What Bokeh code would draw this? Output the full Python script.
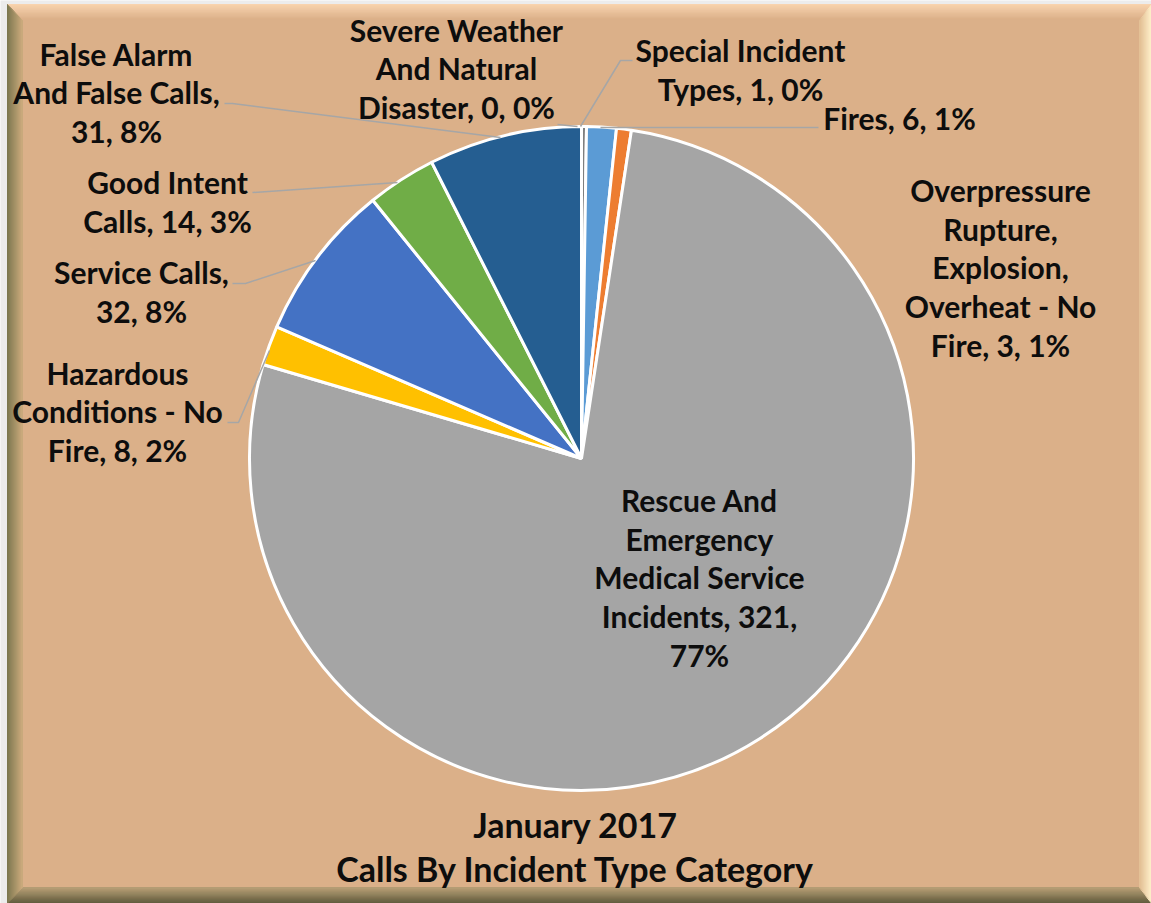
import numpy as np
import pandas as pd
from bokeh.plotting import figure
from bokeh.models import Range1d, ColumnDataSource
from bokeh.core.properties import value
from bokeh.embed import file_html
from bokeh.resources import INLINE

# ---------------- data ----------------
categories = [
    "Special Incident Types",
    "Fires",
    "Overpressure Rupture, Explosion, Overheat - No Fire",
    "Rescue And Emergency Medical Service Incidents",
    "Hazardous Conditions - No Fire",
    "Service Calls",
    "Good Intent Calls",
    "False Alarm And False Calls",
    "Severe Weather And Natural Disaster",
]
counts = [1, 6, 3, 321, 8, 32, 14, 31, 0]
colors = ["#7F7F7F", "#5B9BD5", "#ED7D31", "#A5A5A5", "#FFC000",
          "#4472C4", "#70AD47", "#255E91", "#9E480E"]
# wrapped label text ({n} = count, {p} = percent)
label_templates = [
    "Special Incident\nTypes, {n}, {p}%",
    "Fires, {n}, {p}%",
    "Overpressure\nRupture,\nExplosion,\nOverheat - No\nFire, {n}, {p}%",
    "Rescue And\nEmergency\nMedical Service\nIncidents, {n},\n{p}%",
    "Hazardous\nConditions - No\nFire, {n}, {p}%",
    "Service Calls,\n{n}, {p}%",
    "Good Intent\nCalls, {n}, {p}%",
    "False Alarm\nAnd False Calls,\n{n}, {p}%",
    "Severe Weather\nAnd Natural\nDisaster, {n}, {p}%",
]
title_lines = ["January 2017", "Calls By Incident Type Category"]

# ---------------- layout (pixel coords of reference) ----------------
CX, CY, R = 581, 458, 332
label_pos = [(740, 69), (899, 117), (1000, 267), (699, 577), (117, 411),
             (141, 291), (167, 201), (116, 92), (456, 68)]
leaders = [
    [(632, 60), (620, 60), (580, 126)],
    [(818, 127), (600, 127)],
    None,
    None,
    [(227, 422), (238, 422), (269, 350)],
    [(232, 283), (245, 283), (315, 260)],
    [(252, 192), (397, 182)],
    [(224, 103), (232, 103), (500, 137)],
    [(557, 124), (577, 126)],
]

def X(x):
    return x - CX

def Y(y):
    return CY - y

# ---------------- computations ----------------
df = pd.DataFrame({"cat": categories, "n": counts, "color": colors})
total = df["n"].sum()
raw = df["n"] / total * 100
pct = np.floor(raw).astype(int)
rem = raw - pct
short = 100 - pct.sum()
for idx in rem.sort_values(ascending=False).index[:short]:
    pct[idx] += 1
df["p"] = pct
frac_end = df["n"].cumsum() / total
frac_start = frac_end - df["n"] / total
# clockwise from 12 o'clock -> standard angles
df["start"] = np.pi / 2 - 2 * np.pi * frac_end
df["end"] = np.pi / 2 - 2 * np.pi * frac_start
df["label"] = [t.format(n=n, p=p) for t, n, p in zip(label_templates, df["n"], df["p"])]

W, H = 1151, 903
p = figure(width=W, height=H, x_range=Range1d(X(0), X(W)),
           y_range=Range1d(Y(H), Y(0)), min_border=0,
           toolbar_location=None, output_backend="svg")
p.axis.visible = False
p.grid.visible = False
p.outline_line_color = None
BG = "#DBB089"
p.background_fill_color = "#ECECEC"
p.border_fill_color = "#ECECEC"

# ---------------- bevel frame ----------------
def lerp(c1, c2, t):
    a = [int(c1[i:i + 2], 16) for i in (1, 3, 5)]
    b = [int(c2[i:i + 2], 16) for i in (1, 3, 5)]
    return "#%02x%02x%02x" % tuple(int(round(a[k] + (b[k] - a[k]) * t)) for k in range(3))

L, T, Rr, B = 7, 4, 1151, 903
bl, bt, br, bb = 15, 16, 12, 16
p.quad(left=X(L), right=X(Rr), top=Y(T), bottom=Y(B), fill_color=BG, line_color=None)
sides = {
    "top": ("#F8D3AE", BG),
    "left": ("#7C7750", "#C9A97C"),
    "right": ("#FFF2CC", "#E4C197"),
    "bottom": ("#5E5A3C", "#B49C74"),
}
n = 14
xs, ys, cs = [], [], []
for i in range(n):
    f1, f2 = i / n, (i + 1) / n
    o = (L + bl * f1, T + bt * f1, Rr - br * f1, B - bb * f1)
    q = (L + bl * f2, T + bt * f2, Rr - br * f2, B - bb * f2)
    t = i / (n - 1)
    polys = {
        "top": [(o[0], o[1]), (o[2], o[1]), (q[2], q[1]), (q[0], q[1])],
        "bottom": [(o[0], o[3]), (o[2], o[3]), (q[2], q[3]), (q[0], q[3])],
        "left": [(o[0], o[1]), (q[0], q[1]), (q[0], q[3]), (o[0], o[3])],
        "right": [(o[2], o[1]), (q[2], q[1]), (q[2], q[3]), (o[2], o[3])],
    }
    for s, poly in polys.items():
        xs.append([X(a) for a, b in poly])
        ys.append([Y(b) for a, b in poly])
        cs.append(lerp(sides[s][0], sides[s][1], t))
p.patches(xs, ys, fill_color=cs, line_color=cs, line_width=1)

# ---------------- pie ----------------
src = ColumnDataSource(df.loc[df["n"] > 0, ["start", "end", "color"]])
p.wedge(x=0, y=0, radius=R, start_angle="start", end_angle="end",
        fill_color="color", line_color="white", line_width=3, source=src)

# ---------------- leader lines ----------------
lx, ly = [], []
for ld in leaders:
    if ld:
        lx.append([X(a) for a, b in ld])
        ly.append([Y(b) for a, b in ld])
p.multi_line(lx, ly, line_color="#A6A6A6", line_width=1.5)

# ---------------- labels ----------------
FONT = value("Lato")
lab = ColumnDataSource(dict(x=[X(a) for a, b in label_pos],
                            y=[Y(b) for a, b in label_pos],
                            text=list(df["label"])))
p.text(x="x", y="y", text="text", source=lab, text_font=FONT, text_font_style="bold",
       text_font_size="30px", text_align="center", text_baseline="middle",
       text_line_height=1.077, text_color="#0D0D0D")

p.text(x=[X(575)], y=[Y(846)], text=["\n".join(title_lines)], text_font=FONT,
       text_font_style="bold", text_font_size="34px", text_align="center",
       text_baseline="middle", text_line_height=1.05, text_color="#0D0D0D")

open("out.html", "w").write(file_html(p, INLINE))
